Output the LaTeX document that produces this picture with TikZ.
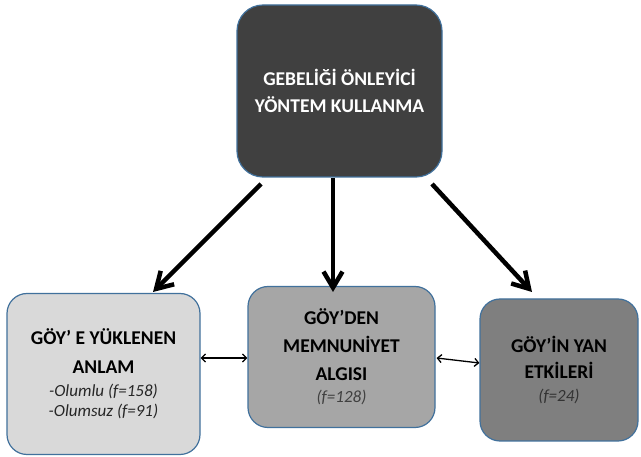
\documentclass[tikz,border=0pt]{standalone}
\usepackage{fontspec}
\setmainfont{Carlito}
\usetikzlibrary{arrows.meta,calc}
\definecolor{edgeblue}{HTML}{41719C}
\definecolor{topfill}{HTML}{404040}
\definecolor{lightfill}{HTML}{D9D9D9}
\definecolor{midfill}{HTML}{A6A6A6}
\definecolor{darkfill}{HTML}{7F7F7F}
\newcommand\freqtext{\fontsize{17}{20}\selectfont\itshape\mdseries}
\begin{document}
\begin{tikzpicture}[x=1pt,y=-1pt,
  card/.style={draw=edgeblue, line width=1.2pt, rounded corners=20pt,
    inner sep=0pt, align=center, font=\fontsize{19.5}{24}\selectfont\bfseries},
  mainarrow/.style={line width=4.5pt, -{Straight Barb[length=16pt,width=19pt,line width=4.5pt]}},
  linkarrow/.style={line width=1.3pt, {Straight Barb[length=4pt,width=8pt]}-{Straight Barb[length=4pt,width=8pt]}}]
\useasboundingbox (0,0) rectangle (641,457);
\fill[white] (0,0) rectangle (641,457);

% boxes
\node[card, fill=topfill, text=white, rounded corners=26pt,
  minimum width=205pt, minimum height=172pt,
  font=\fontsize{19.5}{27}\selectfont\bfseries] (top) at (339.5,91)
  {GEBELİĞİ ÖNLEYİCİ\\YÖNTEM KULLANMA};
\node[card, fill=lightfill, minimum width=193pt, minimum height=161pt] (left) at (103.5,374)
  {GÖY’ E YÜKLENEN\\[5pt]ANLAM\\[-1pt]{\freqtext\color{black!85}-Olumlu (f=158)}\\[-4pt]{\freqtext\color{black!85}-Olumsuz (f=91)}};
\node[card, fill=midfill, minimum width=187pt, minimum height=141pt] (mid) at (341.5,357)
  {GÖY’DEN\\[4pt]MEMNUNİYET\\[4pt]ALGISI\\[-2pt]{\freqtext\color{black!75}(f=128)}};
\node[card, fill=darkfill, minimum width=158pt, minimum height=142pt] (right) at (559,370)
  {GÖY’İN YAN\\[2pt]ETKİLERİ\\[-1pt]{\freqtext\color{black!80}(f=24)}};

% arrow end points
\coordinate (a1) at (261,184);
\coordinate (b1) at (153,292);
\coordinate (a2) at (333,178);
\coordinate (b2) at (333,292);
\coordinate (a3) at (432,184);
\coordinate (b3) at (532,292);

\draw[mainarrow] (a1) -- (b1);
\draw[mainarrow] (a2) -- (b2);
\draw[mainarrow] (a3) -- (b3);

% links between the lower boxes
\draw[linkarrow] (left.east |- 0,358) -- (mid.west |- 0,358);
\draw[linkarrow] ($(mid.east)+(1,1)$) -- ($(right.west)+(0,-7)$);
\end{tikzpicture}
\end{document}
